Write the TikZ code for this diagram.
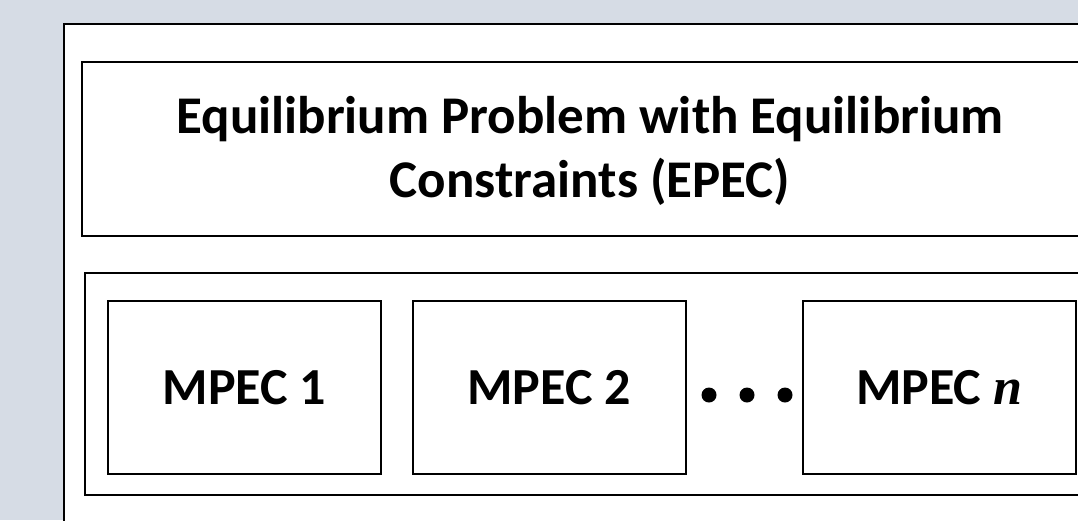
\documentclass[tikz,border=0pt]{standalone}
\usepackage{fontspec}
\setmainfont{Carlito}
\newfontfamily\varfont{Liberation Serif}
\definecolor{pagebg}{HTML}{D6DCE5}
\tikzset{
  frame/.style={draw=black, line width=2pt, fill=white, inner sep=0pt},
  mpec/.style={frame, minimum width=273pt, minimum height=173pt,
    font=\bfseries\fontsize{52}{62}\selectfont},
  dot/.style={circle, fill=black, inner sep=0pt, minimum size=15pt},
}
\begin{document}
\begin{tikzpicture}[x=1pt, y=-1pt]
  \useasboundingbox (0,0) rectangle (1078,520);
  \fill[pagebg] (0,0) rectangle (1078,520);
  \clip (0,0) rectangle (1078,520);

  % outer panel and the EPEC header
  \node[frame, minimum width=1050pt, minimum height=540pt] (outer) at (589,294) {};
  \node[frame, minimum width=1014pt, minimum height=174pt] (epec) at (589,149) {};
  \node[align=center, inner sep=0pt,
        font=\bfseries\fontsize{53}{64}\selectfont] (title) at (590,151)
        {Equilibrium Problem with Equilibrium\\Constraints (EPEC)};

  % row holding the MPEC boxes
  \node[frame, minimum width=1015pt, minimum height=222pt] (row) at (592.5,384) {};
  \node[mpec] (m1) at (244.5,387.5) {MPEC 1};
  \node[mpec] (m2) at (549,387.5) {MPEC 2};
  \node[mpec] (mn) at (939,387.5) {MPEC {\varfont\itshape n}};

  % ellipsis between the second and the last box
  \node[dot] (d1) at (709,395) {};
  \node[dot] (d2) at (747,395) {};
  \node[dot] (d3) at (785,395) {};
\end{tikzpicture}
\end{document}
